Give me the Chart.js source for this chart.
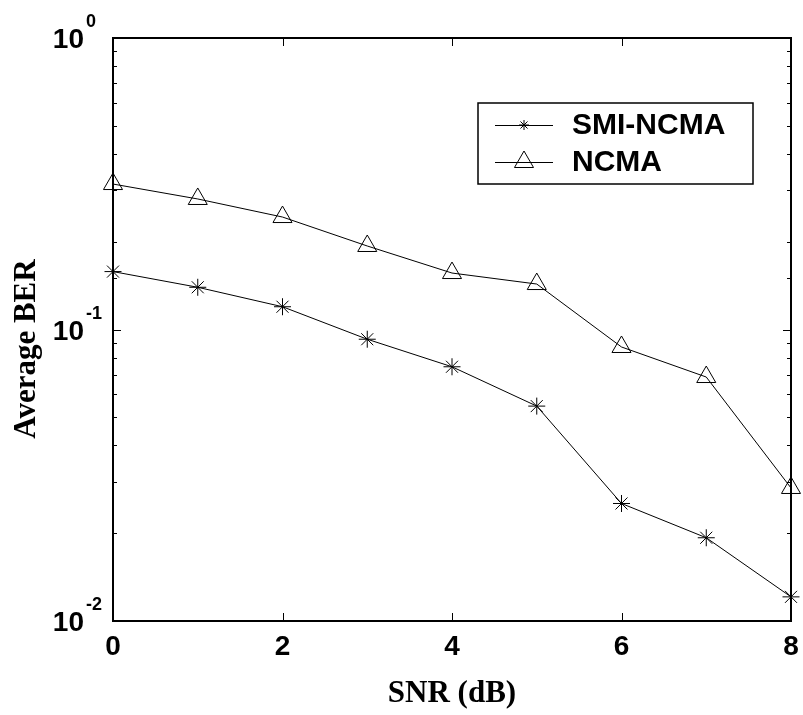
<!DOCTYPE html>
<html>
<head>
<meta charset="utf-8">
<script src="https://cdn.jsdelivr.net/npm/chart.js@4/dist/chart.umd.min.js"></script>
<style>
  html, body { margin: 0; padding: 0; background: #fff; }
  #wrap { width: 803px; height: 715px; position: relative; }
</style>
</head>
<body>
<div id="wrap"><canvas id="berChart"></canvas></div>
<script>
// SNR values (dB) on the x axis
const snr = [0, 1, 2, 3, 4, 5, 6, 7, 8];
// average BER
const smiNcma = [0.158, 0.1396, 0.1197, 0.0926, 0.0745, 0.0546, 0.0253, 0.0193, 0.0121];
const ncma = [0.3155, 0.2804, 0.2431, 0.1934, 0.1562, 0.1432, 0.0871, 0.0687, 0.0286];
const seriesNames = ['SMI-NCMA', 'NCMA'];
const xTicks = [0, 2, 4, 6, 8];
const yDecades = [1, 0.1, 0.01];
const yExponents = ['0', '-1', '-2'];

const sansBold = 'bold 28px "Liberation Sans", Arial, sans-serif';
const supBold = 'bold 18px "Liberation Sans", Arial, sans-serif';
const serifBold = 'bold 31px "Liberation Serif", "Times New Roman", serif';

// draws frame, inward ticks, tick labels, axis titles and legend
const matlabFrame = {
    id: 'matlabFrame',
    afterDatasetsDraw(chart) {
        const ctx = chart.ctx;
        const area = chart.chartArea;
        const xs = chart.scales.x;
        const ys = chart.scales.y;

        ctx.save();
        ctx.strokeStyle = '#000';
        ctx.fillStyle = '#000';

        // inward ticks on all four sides
        ctx.lineWidth = 1;
        ctx.beginPath();
        xTicks.forEach(v => {
            const px = Math.round(xs.getPixelForValue(v)) + 0.5;
            ctx.moveTo(px, area.bottom); ctx.lineTo(px, area.bottom - 8);
            ctx.moveTo(px, area.top); ctx.lineTo(px, area.top + 8);
        });
        ys.ticks.forEach(t => {
            const py = Math.round(ys.getPixelForValue(t.value)) + 0.5;
            const len = yDecades.includes(t.value) ? 8 : 4;
            ctx.moveTo(area.left, py); ctx.lineTo(area.left + len, py);
            ctx.moveTo(area.right, py); ctx.lineTo(area.right - len, py);
        });
        ctx.stroke();

        // frame
        ctx.lineWidth = 2;
        ctx.strokeRect(area.left, area.top, area.right - area.left, area.bottom - area.top);

        // x tick labels
        ctx.font = sansBold;
        ctx.textAlign = 'center';
        ctx.textBaseline = 'alphabetic';
        xTicks.forEach(v => {
            ctx.fillText(String(v), xs.getPixelForValue(v), area.bottom + 34);
        });

        // y tick labels 10^n
        yDecades.forEach((v, i) => {
            const py = ys.getPixelForValue(v);
            ctx.font = sansBold;
            ctx.textAlign = 'right';
            ctx.fillText('10', 84, py + 10);
            ctx.font = supBold;
            ctx.textAlign = 'left';
            ctx.fillText(yExponents[i], 86, py - 11);
        });

        // axis titles
        ctx.font = serifBold;
        ctx.textAlign = 'center';
        ctx.fillText('SNR (dB)', (area.left + area.right) / 2, 702);
        ctx.save();
        ctx.translate(35, 349);
        ctx.rotate(-Math.PI / 2);
        ctx.fillText('Average BER', 0, 0);
        ctx.restore();

        // legend
        ctx.fillStyle = '#fff';
        ctx.fillRect(478, 103, 275, 81);
        ctx.lineWidth = 1.5;
        ctx.strokeRect(478, 103, 275, 81);
        const rows = [
            { y: 125, style: 'star', r: 5 },
            { y: 162, style: 'triangle', r: 11 }
        ];
        ctx.font = 'bold 30px "Liberation Sans", Arial, sans-serif';
        ctx.textAlign = 'left';
        ctx.textBaseline = 'middle';
        rows.forEach((row, i) => {
            ctx.strokeStyle = '#000';
            ctx.lineWidth = 1;
            ctx.beginPath();
            ctx.moveTo(495, row.y + 0.5); ctx.lineTo(553, row.y + 0.5);
            ctx.stroke();
            ctx.fillStyle = 'rgba(0,0,0,0)';
            Chart.helpers.drawPoint(ctx, {
                pointStyle: row.style, radius: row.r, rotation: 0, borderWidth: 1
            }, 524, row.y);
            ctx.fillStyle = '#000';
            ctx.fillText(seriesNames[i], 572, row.y + 1);
        });

        ctx.restore();
    }
};

new Chart(document.getElementById('berChart'), {
    type: 'line',
    data: {
        labels: snr,
        datasets: [
            {
                label: seriesNames[0],
                data: snr.map((x, i) => ({ x: x, y: smiNcma[i] })),
                borderColor: '#000',
                borderWidth: 1,
                pointStyle: 'star',
                pointRadius: 8.5,
                pointBorderColor: '#000',
                pointBorderWidth: 1,
                pointBackgroundColor: 'rgba(0,0,0,0)',
                tension: 0
            },
            {
                label: seriesNames[1],
                data: snr.map((x, i) => ({ x: x, y: ncma[i] })),
                borderColor: '#000',
                borderWidth: 1,
                pointStyle: 'triangle',
                pointRadius: 11,
                pointBorderColor: '#000',
                pointBorderWidth: 1,
                pointBackgroundColor: 'rgba(0,0,0,0)',
                tension: 0
            }
        ]
    },
    options: {
        responsive: true,
        maintainAspectRatio: false,
        animation: false,
        clip: false,
        layout: { padding: { left: 113, top: 38, right: 9, bottom: 94 } },
        plugins: {
            legend: { display: false },
            tooltip: { enabled: false }
        },
        scales: {
            x: {
                type: 'linear',
                min: 0,
                max: 8,
                ticks: { display: false, stepSize: 2 },
                grid: { display: false },
                border: { display: false },
                afterFit: s => { s.height = 0; }
            },
            y: {
                type: 'logarithmic',
                min: 0.01,
                max: 1,
                ticks: { display: false },
                grid: { display: false },
                border: { display: false },
                afterFit: s => { s.width = 0; }
            }
        }
    },
    plugins: [matlabFrame]
});
</script>
</body>
</html>
